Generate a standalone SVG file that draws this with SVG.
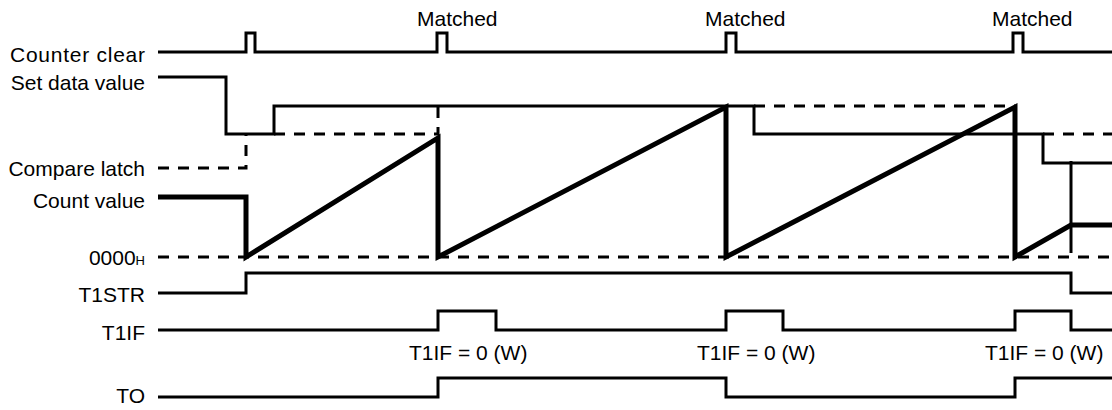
<svg xmlns="http://www.w3.org/2000/svg" width="1112" height="410" viewBox="0 0 1112 410">
<style>
text{font-family:"Liberation Sans",Arial,sans-serif;font-size:21px;fill:#000}
.lbl{text-anchor:end}
.sig{fill:none;stroke:#000;stroke-width:3;stroke-linejoin:miter;stroke-linecap:butt}
.dash{fill:none;stroke:#000;stroke-width:3;stroke-dasharray:11 9}
.thick{fill:none;stroke:#000;stroke-width:5;stroke-linejoin:miter;stroke-linecap:butt}
.sub{font-size:13px}
</style>
<rect width="1112" height="410" fill="#fff"/>
<g id="counter-clear">
<text x="10" y="62" textLength="135" lengthAdjust="spacing">Counter clear</text>
<path class="sig" d="M158,52 H246 V33 H255 V52 H437 V33 H447 V52 H726 V33 H736 V52 H1013 V33 H1023 V52 H1112"/>
<text x="417" y="26">Matched</text>
<text x="705" y="26">Matched</text>
<text x="992" y="26">Matched</text>
</g>
<g id="compare-latch">
<text class="lbl" x="145" y="176">Compare latch</text>
<path class="dash" d="M158,168 H246 V134"/>
<path class="dash" d="M274,134 H438 V106"/>
<path class="dash" d="M754,106 H1015"/>
<path class="dash" d="M1043,134 H1112"/>
</g>
<g id="set-data-value">
<text class="lbl" x="145" y="90">Set data value</text>
<path class="sig" d="M158,77 H226 V134 H274 V106 H754 V134 H1043 V163 H1112"/>
</g>
<g id="zero-level">
<text class="lbl" x="145" y="265">0000<tspan class="sub">H</tspan></text>
<path class="dash" d="M158,257 H1112"/>
</g>
<g id="count-value">
<text class="lbl" x="145" y="208">Count value</text>
<path class="thick" d="M158,197 H246 V257 L438,138 V257 L726,107 V257 L1015,107 V257 L1071,225 H1112"/>
</g>
<g id="connectors">
<path class="sig" d="M1071,161 V253"/>
</g>
<g id="t1str">
<text class="lbl" x="145" y="302">T1STR</text>
<path class="sig" d="M158,293 H246 V273 H1071 V293 H1112"/>
</g>
<g id="t1if">
<text class="lbl" x="145" y="340">T1IF</text>
<path class="sig" d="M158,330 H438 V311 H496 V330 H726 V311 H783 V330 H1015 V311 H1071 V330 H1112"/>
<text x="409" y="360">T1IF = 0 (W)</text>
<text x="697" y="360">T1IF = 0 (W)</text>
<text x="985" y="360">T1IF = 0 (W)</text>
</g>
<g id="to">
<text class="lbl" x="145" y="403">TO</text>
<path class="sig" d="M158,397 H438 V378 H726 V397 H1015 V378 H1112"/>
</g>
</svg>
